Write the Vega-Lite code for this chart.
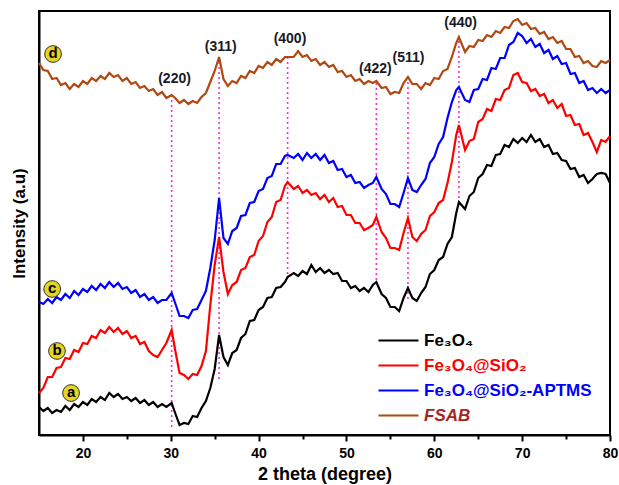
{
  "$schema": "https://vega.github.io/schema/vega-lite/v6.json",
  "width": 571,
  "height": 424,
  "autosize": "none",
  "padding": {"left": 39, "top": 11, "right": 9, "bottom": 50},
  "background": "white",
  "config": {
    "view": {"stroke": "black", "strokeWidth": 2},
    "font": "Liberation Sans"
  },
  "datasets": {
    "xrd": [
      {"x":15,"a":28,"b":42,"c":133,"d":372},
      {"x":15.5,"a":24,"b":47,"c":131,"d":365},
      {"x":16,"a":27,"b":58,"c":136,"d":364},
      {"x":16.5,"a":22,"b":58,"c":132,"d":356},
      {"x":17,"a":25,"b":67,"c":138,"d":357},
      {"x":17.5,"a":23,"b":68,"c":135,"d":350},
      {"x":18,"a":29,"b":77,"c":141,"d":352},
      {"x":18.5,"a":25,"b":76,"c":137,"d":346},
      {"x":19,"a":31,"b":85,"c":144,"d":351},
      {"x":19.5,"a":28,"b":83,"c":140,"d":348},
      {"x":20,"a":33,"b":92,"c":146,"d":354},
      {"x":20.5,"a":30,"b":91,"c":143,"d":351},
      {"x":21,"a":36,"b":99,"c":149,"d":357},
      {"x":21.5,"a":33,"b":97,"c":145,"d":354},
      {"x":22,"a":38,"b":105,"c":151,"d":359},
      {"x":22.5,"a":35,"b":102,"c":147,"d":356},
      {"x":23,"a":42,"b":108,"c":153,"d":362},
      {"x":23.5,"a":38,"b":103,"c":148,"d":358},
      {"x":24,"a":41,"b":107,"c":152,"d":360},
      {"x":24.5,"a":36,"b":101,"c":146,"d":354},
      {"x":25,"a":38,"b":104,"c":148,"d":357},
      {"x":25.5,"a":34,"b":97,"c":142,"d":351},
      {"x":26,"a":37,"b":99,"c":145,"d":353},
      {"x":26.5,"a":32,"b":91,"c":138,"d":347},
      {"x":27,"a":35,"b":93,"c":141,"d":349},
      {"x":27.5,"a":30,"b":84,"c":135,"d":344},
      {"x":28,"a":33,"b":80,"c":138,"d":346},
      {"x":28.5,"a":28,"b":78,"c":132,"d":340},
      {"x":29,"a":31,"b":85,"c":135,"d":343},
      {"x":29.5,"a":28,"b":92,"c":135,"d":337},
      {"x":30.1,"a":32,"b":105,"c":142,"d":340},
      {"x":30.5,"a":22,"b":85,"c":132,"d":337},
      {"x":31,"a":10,"b":62,"c":119,"d":332},
      {"x":31.5,"a":12,"b":60,"c":119,"d":335},
      {"x":32,"a":11,"b":56,"c":117,"d":331},
      {"x":32.5,"a":19,"b":61,"c":125,"d":334},
      {"x":33,"a":18,"b":60,"c":126,"d":332},
      {"x":33.5,"a":27,"b":69,"c":135,"d":338},
      {"x":34,"a":34,"b":84,"c":144,"d":342},
      {"x":34.5,"a":47,"b":130,"c":167,"d":353},
      {"x":35,"a":66,"b":170,"c":195,"d":364},
      {"x":35.5,"a":100,"b":198,"c":237,"d":378},
      {"x":36,"a":78,"b":163,"c":197,"d":356},
      {"x":36.5,"a":70,"b":141,"c":191,"d":349},
      {"x":37,"a":82,"b":150,"c":204,"d":354},
      {"x":37.5,"a":85,"b":153,"c":207,"d":352},
      {"x":38,"a":97,"b":165,"c":219,"d":359},
      {"x":38.5,"a":101,"b":167,"c":220,"d":357},
      {"x":39,"a":114,"b":178,"c":232,"d":364},
      {"x":39.5,"a":115,"b":180,"c":233,"d":362},
      {"x":40,"a":125,"b":194,"c":244,"d":369},
      {"x":40.5,"a":128,"b":199,"c":246,"d":367},
      {"x":41,"a":137,"b":213,"c":257,"d":373},
      {"x":41.5,"a":138,"b":218,"c":259,"d":370},
      {"x":42,"a":147,"b":233,"c":271,"d":376},
      {"x":42.5,"a":148,"b":235,"c":271,"d":373},
      {"x":43,"a":153,"b":249,"c":279,"d":378},
      {"x":43.3,"a":158,"b":253,"c":280,"d":378},
      {"x":44,"a":162,"b":246,"c":277,"d":378},
      {"x":44.5,"a":159,"b":249,"c":281,"d":384},
      {"x":45,"a":164,"b":242,"c":275,"d":378},
      {"x":45.5,"a":161,"b":245,"c":282,"d":380},
      {"x":46,"a":170,"b":240,"c":277,"d":374},
      {"x":46.5,"a":163,"b":242,"c":281,"d":376},
      {"x":47,"a":167,"b":236,"c":275,"d":370},
      {"x":47.5,"a":162,"b":240,"c":280,"d":373},
      {"x":48,"a":165,"b":233,"c":272,"d":368},
      {"x":48.5,"a":161,"b":237,"c":274,"d":370},
      {"x":49,"a":162,"b":228,"c":265,"d":363},
      {"x":49.5,"a":154,"b":229,"c":266,"d":364},
      {"x":50,"a":154,"b":220,"c":258,"d":358},
      {"x":50.5,"a":147,"b":220,"c":260,"d":360},
      {"x":51,"a":149,"b":212,"c":252,"d":354},
      {"x":51.5,"a":144,"b":212,"c":253,"d":356},
      {"x":52,"a":147,"b":205,"c":247,"d":351},
      {"x":52.5,"a":143,"b":207,"c":250,"d":354},
      {"x":53,"a":150,"b":210,"c":252,"d":352},
      {"x":53.4,"a":153,"b":218,"c":258,"d":354},
      {"x":54,"a":141,"b":203,"c":246,"d":347},
      {"x":54.5,"a":137,"b":197,"c":241,"d":348},
      {"x":55,"a":128,"b":187,"c":231,"d":341},
      {"x":55.5,"a":128,"b":187,"c":231,"d":343},
      {"x":56,"a":124,"b":185,"c":228,"d":342},
      {"x":56.5,"a":137,"b":202,"c":242,"d":352},
      {"x":57,"a":147,"b":217,"c":257,"d":358},
      {"x":57.5,"a":137,"b":198,"c":245,"d":351},
      {"x":58,"a":134,"b":194,"c":243,"d":351},
      {"x":58.5,"a":142,"b":201,"c":250,"d":346},
      {"x":59,"a":148,"b":205,"c":256,"d":352},
      {"x":59.5,"a":161,"b":219,"c":272,"d":350},
      {"x":60,"a":165,"b":223,"c":278,"d":357},
      {"x":60.5,"a":175,"b":232,"c":291,"d":356},
      {"x":61,"a":178,"b":235,"c":298,"d":364},
      {"x":61.5,"a":191,"b":252,"c":317,"d":366},
      {"x":62,"a":198,"b":273,"c":333,"d":378},
      {"x":62.5,"a":222,"b":300,"c":345,"d":392},
      {"x":62.8,"a":233,"b":310,"c":348,"d":398},
      {"x":63.5,"a":226,"b":285,"c":335,"d":383},
      {"x":64,"a":239,"b":294,"c":333,"d":389},
      {"x":64.5,"a":243,"b":296,"c":345,"d":388},
      {"x":65,"a":257,"b":313,"c":346,"d":395},
      {"x":65.5,"a":261,"b":316,"c":356,"d":394},
      {"x":66,"a":270,"b":326,"c":355,"d":400},
      {"x":66.5,"a":269,"b":324,"c":367,"d":398},
      {"x":67,"a":280,"b":336,"c":366,"d":404},
      {"x":67.5,"a":281,"b":335,"c":377,"d":402},
      {"x":68,"a":290,"b":345,"c":377,"d":408},
      {"x":68.5,"a":288,"b":347,"c":390,"d":407},
      {"x":69,"a":296,"b":360,"c":393,"d":414},
      {"x":69.5,"a":292,"b":362,"c":402,"d":416},
      {"x":70,"a":297,"b":353,"c":399,"d":410},
      {"x":70.5,"a":293,"b":352,"c":392,"d":412},
      {"x":71,"a":300,"b":344,"c":396,"d":406},
      {"x":71.5,"a":293,"b":346,"c":388,"d":407},
      {"x":72,"a":296,"b":339,"c":391,"d":401},
      {"x":72.5,"a":288,"b":341,"c":382,"d":403},
      {"x":73,"a":290,"b":332,"c":385,"d":396},
      {"x":73.5,"a":281,"b":335,"c":376,"d":398},
      {"x":74,"a":282,"b":327,"c":379,"d":392},
      {"x":74.5,"a":275,"b":331,"c":371,"d":394},
      {"x":75,"a":274,"b":319,"c":372,"d":386},
      {"x":75.5,"a":266,"b":320,"c":361,"d":386},
      {"x":76,"a":267,"b":310,"c":362,"d":378},
      {"x":76.5,"a":258,"b":311,"c":352,"d":379},
      {"x":77,"a":260,"b":300,"c":354,"d":372},
      {"x":77.5,"a":252,"b":302,"c":345,"d":374},
      {"x":78,"a":256,"b":293,"c":347,"d":369},
      {"x":78.5,"a":261,"b":283,"c":342,"d":368},
      {"x":79,"a":262,"b":295,"c":346,"d":374},
      {"x":79.5,"a":261,"b":293,"c":342,"d":372},
      {"x":80,"a":252,"b":299,"c":345,"d":375}
    ],
    "peaks": [
      {"x":30.1,"y":340,"y2":8,"hkl":"(220)","lx":30.43,"ly":356},
      {"x":35.5,"y":378,"y2":55,"hkl":"(311)","lx":35.69,"ly":388},
      {"x":43.3,"y":378,"y2":157,"hkl":"(400)","lx":43.57,"ly":396},
      {"x":53.4,"y":352,"y2":153,"hkl":"(422)","lx":53.29,"ly":366},
      {"x":57.0,"y":358,"y2":133,"hkl":"(511)","lx":57.06,"ly":377},
      {"x":62.8,"y":399,"y2":230,"hkl":"(440)","lx":63.0,"ly":412}
    ],
    "tags": [
      {"x":18.65,"y":42,"t":"a"},
      {"x":17.05,"y":84,"t":"b"},
      {"x":16.5,"y":146,"t":"c"},
      {"x":16.6,"y":381,"t":"d"}
    ]
  },
  "encoding": {
    "x": {
      "field": "x",
      "type": "quantitative",
      "scale": {"domain": [15, 80], "nice": false, "zero": false},
      "axis": {
        "title": "2 theta (degree)",
        "values": [20, 25, 30, 35, 40, 45, 50, 55, 60, 65, 70, 75, 80],
        "labelExpr": "datum.value % 10 === 0 ? datum.label : ''",
        "tickSize": {"condition": {"test": "datum.value % 10 === 0", "value": 6}, "value": 4},
        "tickWidth": 2,
        "tickColor": "black",
        "domainColor": "black",
        "domainWidth": 2,
        "grid": false,
        "labelFont": "Liberation Sans",
        "labelFontSize": 14,
        "labelFontWeight": "bold",
        "labelColor": "black",
        "labelPadding": 5,
        "labelFlush": false,
        "titleFont": "Liberation Sans",
        "titleFontSize": 18,
        "titleFontWeight": "bold",
        "titleColor": "black",
        "titlePadding": 5
      }
    },
    "y": {
      "field": "y",
      "type": "quantitative",
      "scale": {"domain": [0, 424], "nice": false, "zero": false},
      "axis": {
        "title": "Intensity (a.u)",
        "labels": false,
        "ticks": false,
        "grid": false,
        "domainColor": "black",
        "domainWidth": 2,
        "titleFont": "Liberation Sans",
        "titleFontSize": 17,
        "titleFontWeight": "bold",
        "titleColor": "black",
        "titlePadding": 11
      }
    }
  },
  "layer": [
    {
      "data": {"name": "peaks"},
      "mark": {"type": "rule", "color": "#ff2bd6", "strokeWidth": 1.6, "strokeDash": [2, 3]},
      "encoding": {"y2": {"field": "y2"}}
    },
    {
      "data": {"name": "xrd"},
      "transform": [{"fold": ["a", "b", "c", "d"], "as": ["s", "y"]}],
      "mark": {"type": "line", "strokeWidth": 2.2, "interpolate": "linear"},
      "encoding": {
        "color": {
          "field": "s",
          "type": "nominal",
          "scale": {"domain": ["a", "b", "c", "d"], "range": ["#000000", "#ff0000", "#0000ff", "#b0480f"]},
          "legend": {
            "title": null,
            "orient": "none",
            "legendX": 351,
            "legendY": 321,
            "padding": 0,
            "symbolType": "M-4,0H4",
            "symbolSize": 100,
            "symbolStrokeWidth": 2,
            "rowPadding": 7,
            "labelOffset": 17,
            "labelFont": "Liberation Sans",
            "labelFontSize": 17,
            "labelFontWeight": "bold",
            "labelLimit": 300,
            "labelExpr": "{'a': 'Fe₃O₄', 'b': 'Fe₃O₄@SiO₂', 'c': 'Fe₃O₄@SiO₂-APTMS', 'd': 'FSAB'}[datum.value]",
            "encode": {
              "labels": {
                "update": {
                  "fill": {"signal": "{'a': '#000000', 'b': '#ff0000', 'c': '#0000ff', 'd': '#a5261a'}[datum.value]"},
                  "fontStyle": {"signal": "datum.value === 'd' ? 'italic' : 'normal'"}
                }
              }
            }
          }
        }
      }
    },
    {
      "data": {"name": "peaks"},
      "mark": {"type": "text", "font": "Liberation Sans", "fontSize": 14, "fontWeight": "bold", "color": "#1a1a24", "baseline": "middle", "align": "center"},
      "encoding": {
        "x": {"field": "lx", "type": "quantitative"},
        "y": {"field": "ly", "type": "quantitative"},
        "text": {"field": "hkl"}
      }
    },
    {
      "data": {"name": "tags"},
      "mark": {"type": "point", "shape": "circle", "filled": true, "size": 280, "fill": "#e6d41e", "stroke": "#333333", "strokeWidth": 1, "opacity": 1}
    },
    {
      "data": {"name": "tags"},
      "mark": {"type": "text", "font": "Liberation Sans", "fontSize": 15, "fontWeight": "bold", "color": "black", "baseline": "middle", "align": "center", "dy": -1},
      "encoding": {"text": {"field": "t"}}
    }
  ]
}
